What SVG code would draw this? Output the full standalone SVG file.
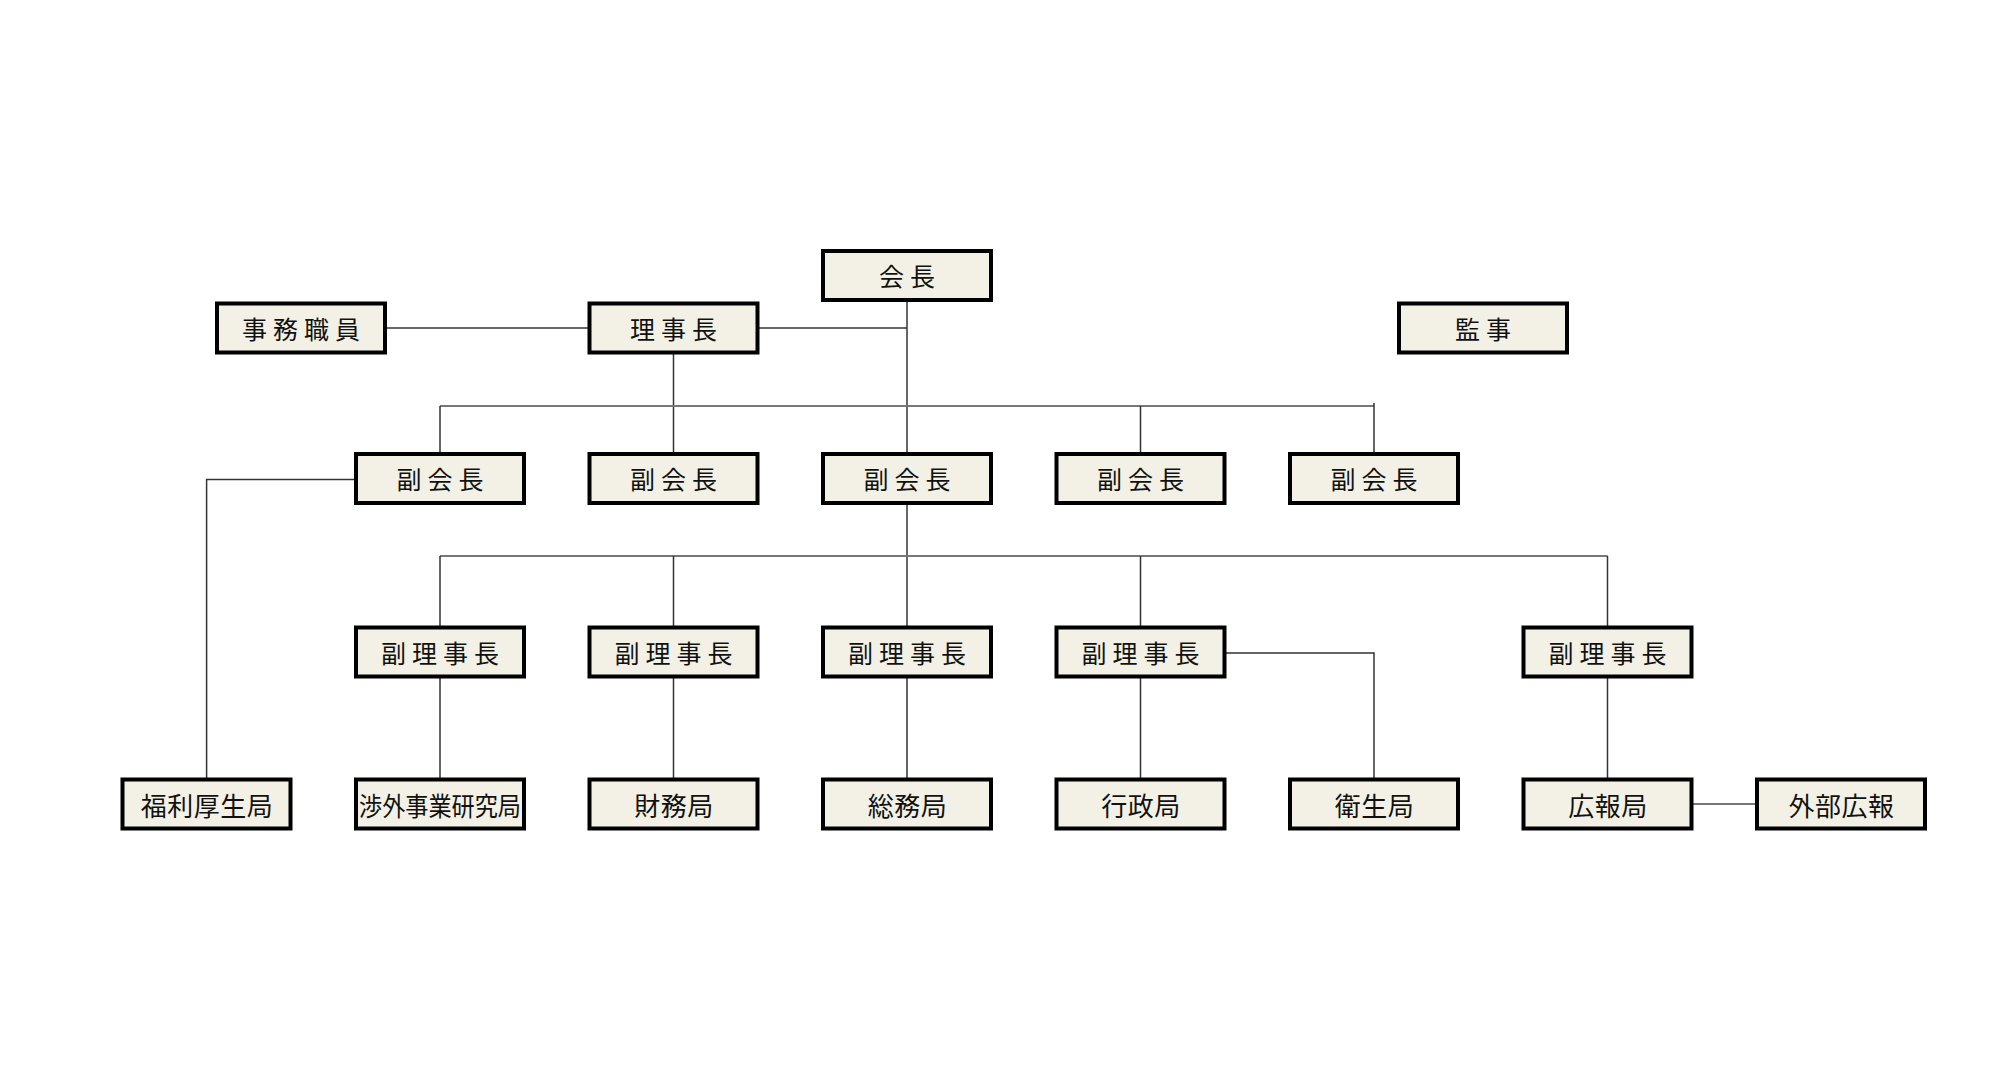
<svg xmlns="http://www.w3.org/2000/svg" width="2000" height="1080" viewBox="0 0 2000 1080">
<style>
.box{fill:#f3f1e6;stroke:#000;stroke-width:4}
.t{font-family:"Noto Sans CJK JP","Noto Sans CJK SC",sans-serif;font-size:25px;letter-spacing:6px;fill:#111;text-anchor:middle;dominant-baseline:central}
.b{font-size:26px;letter-spacing:0.5px}
.ln{fill:none;stroke:#333;stroke-width:1.5}
.bus{fill:none;stroke:#777;stroke-width:2}
</style>
<rect width="2000" height="1080" fill="#fff"/>
<g id="connectors">
<path class="ln" d="M301,328 H589"/>
<path class="ln" d="M758,328 H907"/>
<path class="ln" d="M907,300 V454"/>
<path class="ln" d="M673.5,352 V454"/>
<path class="bus" d="M440,406 H1374"/>
<path class="ln" d="M440,406 V454 M1140.5,406 V454 M1374,403 V454"/>
<path class="ln" d="M356,479.5 H206.6 V779.5"/>
<path class="ln" d="M907,502.5 V627.5"/>
<path class="bus" d="M440,556 H1607.5"/>
<path class="ln" d="M440,556 V627.5 M673.5,556 V627.5 M1140.5,556 V627.5 M1607.5,556 V627.5"/>
<path class="ln" d="M440,676 V779.5 M673.5,676 V779.5 M907,676 V779.5 M1140.5,676 V779.5 M1607.5,676 V779.5"/>
<path class="ln" d="M1224.5,653 H1374 V779.5"/>
<path class="bus" d="M1691.5,804 H1757"/>
</g>
<g id="n-kaicho"><rect class="box" x="823" y="251" width="168" height="49"/><text class="t" x="910" y="274.5">会長</text></g>
<g id="n-jimu"><rect class="box" x="217" y="303.5" width="168" height="49"/><text class="t" x="304" y="327.5">事務職員</text></g>
<g id="n-rijicho"><rect class="box" x="589.5" y="303.5" width="168" height="49"/><text class="t" x="676.5" y="327.5">理事長</text></g>
<g id="n-kanji"><rect class="box" x="1399" y="303.5" width="168" height="49"/><text class="t" x="1486" y="327.5">監事</text></g>
<g id="n-fuku1"><rect class="box" x="356" y="454" width="168" height="49"/><text class="t" x="443" y="478">副会長</text></g>
<g id="n-fuku2"><rect class="box" x="589.5" y="454" width="168" height="49"/><text class="t" x="676.5" y="478">副会長</text></g>
<g id="n-fuku3"><rect class="box" x="823" y="454" width="168" height="49"/><text class="t" x="910" y="478">副会長</text></g>
<g id="n-fuku4"><rect class="box" x="1056.5" y="454" width="168" height="49"/><text class="t" x="1143.5" y="478">副会長</text></g>
<g id="n-fuku5"><rect class="box" x="1290" y="454" width="168" height="49"/><text class="t" x="1377" y="478">副会長</text></g>
<g id="n-fr1"><rect class="box" x="356" y="627.5" width="168" height="49"/><text class="t" x="443" y="651.5">副理事長</text></g>
<g id="n-fr2"><rect class="box" x="589.5" y="627.5" width="168" height="49"/><text class="t" x="676.5" y="651.5">副理事長</text></g>
<g id="n-fr3"><rect class="box" x="823" y="627.5" width="168" height="49"/><text class="t" x="910" y="651.5">副理事長</text></g>
<g id="n-fr4"><rect class="box" x="1056.5" y="627.5" width="168" height="49"/><text class="t" x="1143.5" y="651.5">副理事長</text></g>
<g id="n-fr5"><rect class="box" x="1523.5" y="627.5" width="168" height="49"/><text class="t" x="1610.5" y="651.5">副理事長</text></g>
<g id="n-fukuri"><rect class="box" x="122.5" y="779.5" width="168" height="49"/><text class="t b" x="207" y="804">福利厚生局</text></g>
<g id="n-shogai"><rect class="box" x="356" y="779.5" width="168" height="49"/><text class="t b" x="440" y="804" style="letter-spacing:0" textLength="162" lengthAdjust="spacingAndGlyphs">渉外事業研究局</text></g>
<g id="n-zaimu"><rect class="box" x="589.5" y="779.5" width="168" height="49"/><text class="t b" x="674" y="804">財務局</text></g>
<g id="n-somu"><rect class="box" x="823" y="779.5" width="168" height="49"/><text class="t b" x="907.5" y="804">総務局</text></g>
<g id="n-gyosei"><rect class="box" x="1056.5" y="779.5" width="168" height="49"/><text class="t b" x="1141" y="804">行政局</text></g>
<g id="n-eisei"><rect class="box" x="1290" y="779.5" width="168" height="49"/><text class="t b" x="1374.5" y="804">衛生局</text></g>
<g id="n-koho"><rect class="box" x="1523.5" y="779.5" width="168" height="49"/><text class="t b" x="1608" y="804">広報局</text></g>
<g id="n-gaibu"><rect class="box" x="1757" y="779.5" width="168" height="49"/><text class="t b" x="1841.5" y="804">外部広報</text></g>
</svg>
